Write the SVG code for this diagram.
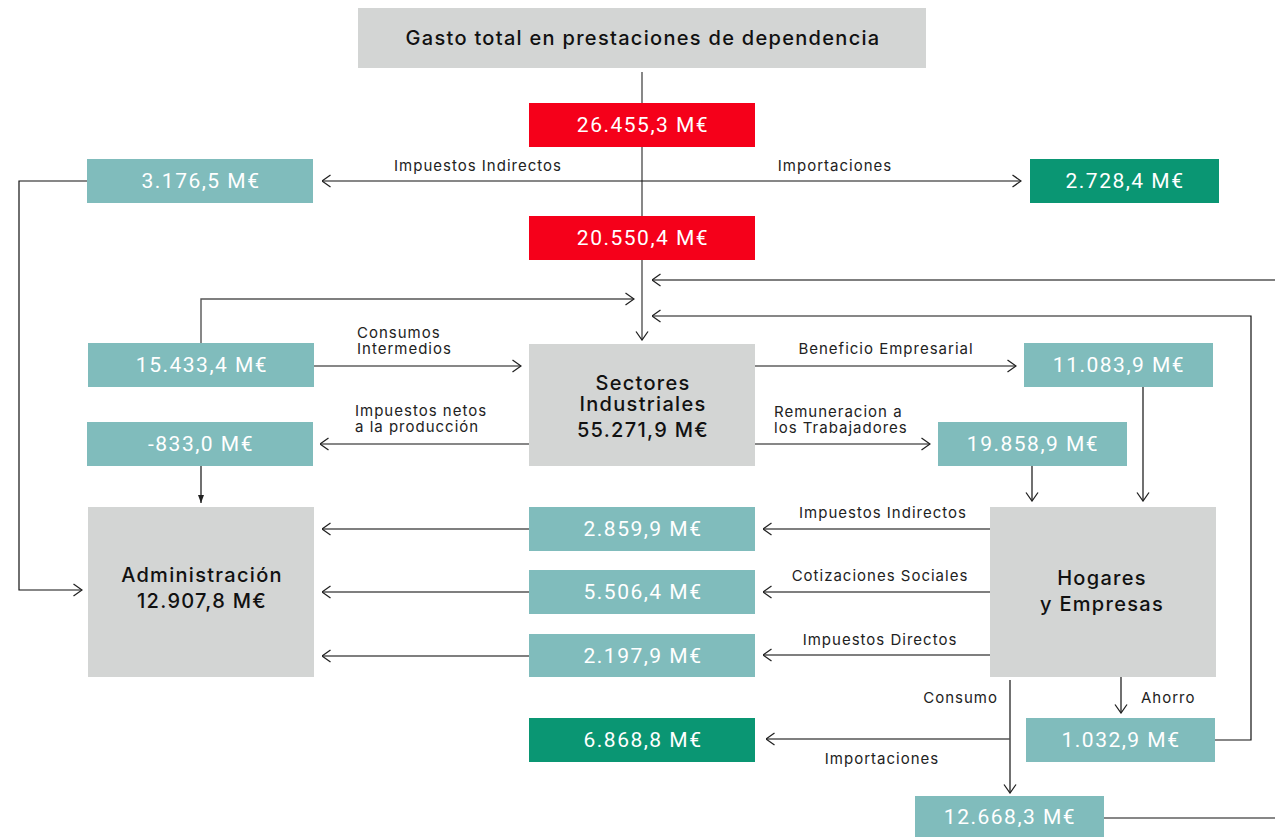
<svg xmlns="http://www.w3.org/2000/svg" width="1275" height="837" viewBox="0 0 1275 837">
<defs>
<style>
.gray{fill:#d3d5d4}
.red{fill:#f5001a}
.teal{fill:#80bcbc}
.green{fill:#0a9673}
.val{font-family:Roboto,"Liberation Sans",sans-serif;font-size:21px;fill:#fff;text-anchor:middle;letter-spacing:1.5px}
.big{font-family:Inter,"Liberation Sans",sans-serif;font-size:20px;font-weight:500;fill:#111;text-anchor:middle;letter-spacing:1.3px}
.lbl{font-family:Inter,"Liberation Sans",sans-serif;font-size:15px;fill:#222;letter-spacing:1px}
.ln{fill:none;stroke:#555;stroke-width:1.4}
.lk{fill:none;stroke:#111;stroke-width:1.2}
</style>
<marker id="ch" viewBox="0 0 10 14" refX="9.5" refY="7" markerWidth="10" markerHeight="14" markerUnits="userSpaceOnUse" orient="auto">
<path d="M1,1 L9.5,7 L1,13" fill="none" stroke="#222" stroke-width="1.3"/>
</marker>
<marker id="tri" viewBox="0 0 8 8" refX="8" refY="4" markerWidth="8" markerHeight="8" markerUnits="userSpaceOnUse" orient="auto">
<path d="M0,1 L8,4 L0,7 Z" fill="#222"/>
</marker>
</defs>

<g id="connectors">
<path class="ln" d="M642,72 V340" marker-end="url(#ch)"/>
<path class="lk" d="M642,181 H322" marker-end="url(#ch)"/>
<path class="lk" d="M642,181 H1021" marker-end="url(#ch)"/>
<path class="lk" d="M87,181 H19 V590 H82" marker-end="url(#ch)"/>
<path class="ln" d="M201,343 V299 H634" marker-end="url(#ch)"/>
<path class="ln" d="M1275,280 H652" marker-end="url(#ch)"/>
<path class="lk" d="M1215,740 H1251 V316 H652" marker-end="url(#ch)"/>
<path class="lk" d="M314,366 H521" marker-end="url(#ch)"/>
<path class="lk" d="M755,366 H1016" marker-end="url(#ch)"/>
<path class="lk" d="M529,444 H320" marker-end="url(#ch)"/>
<path class="lk" d="M755,444 H930" marker-end="url(#ch)"/>
<path class="lk" d="M201,466 V503" marker-end="url(#tri)"/>
<path class="ln" d="M529,529 H322" marker-end="url(#ch)"/>
<path class="ln" d="M529,592 H322" marker-end="url(#ch)"/>
<path class="ln" d="M529,656 H322" marker-end="url(#ch)"/>
<path class="ln" d="M990,529 H763" marker-end="url(#ch)"/>
<path class="ln" d="M990,592 H763" marker-end="url(#ch)"/>
<path class="ln" d="M990,655 H763" marker-end="url(#ch)"/>
<path class="lk" d="M1032,466 V501" marker-end="url(#ch)"/>
<path class="lk" d="M1143,387 V501" marker-end="url(#ch)"/>
<path class="lk" d="M1010,680 V793" marker-end="url(#ch)"/>
<path class="ln" d="M1010,739 H766" marker-end="url(#ch)"/>
<path class="lk" d="M1121,677 V713" marker-end="url(#ch)"/>
<path class="lk" d="M1104,818 H1275"/>
<text class="lbl" x="478" y="171" text-anchor="middle">Impuestos Indirectos</text>
<text class="lbl" x="835" y="171" text-anchor="middle">Importaciones</text>
<text class="lbl" x="357" y="338">Consumos</text>
<text class="lbl" x="357" y="354">Intermedios</text>
<text class="lbl" x="886" y="354" text-anchor="middle">Beneficio Empresarial</text>
<text class="lbl" x="355" y="416">Impuestos netos</text>
<text class="lbl" x="355" y="432">a la producción</text>
<text class="lbl" x="774" y="417">Remuneracion a</text>
<text class="lbl" x="774" y="433">los Trabajadores</text>
<text class="lbl" x="883" y="518" text-anchor="middle">Impuestos Indirectos</text>
<text class="lbl" x="880" y="581" text-anchor="middle">Cotizaciones Sociales</text>
<text class="lbl" x="880" y="645" text-anchor="middle">Impuestos Directos</text>
<text class="lbl" x="998" y="703" text-anchor="end">Consumo</text>
<text class="lbl" x="1141" y="703">Ahorro</text>
<text class="lbl" x="882" y="764" text-anchor="middle">Importaciones</text>
</g>

<g id="title"><rect class="gray" x="358" y="8" width="568" height="60"/><text class="big" x="643" y="45">Gasto total en prestaciones de dependencia</text></g>
<g id="v26455"><rect class="red" x="529" y="103" width="226" height="44"/><text class="val" x="643" y="132">26.455,3 M€</text></g>
<g id="v20550"><rect class="red" x="529" y="216" width="226" height="44"/><text class="val" x="643" y="245">20.550,4 M€</text></g>
<g id="v3176"><rect class="teal" x="87" y="159" width="226" height="44"/><text class="val" x="201" y="188">3.176,5 M€</text></g>
<g id="v2728"><rect class="green" x="1030" y="159" width="189" height="44"/><text class="val" x="1125" y="188">2.728,4 M€</text></g>
<g id="v15433"><rect class="teal" x="88" y="343" width="226" height="44"/><text class="val" x="202" y="372">15.433,4 M€</text></g>
<g id="sectores"><rect class="gray" x="529" y="344" width="226" height="122"/><text class="big" x="643" y="390">Sectores</text><text class="big" x="643" y="411">Industriales</text><text class="big" x="643" y="437">55.271,9 M€</text></g>
<g id="v11083"><rect class="teal" x="1024" y="343" width="189" height="44"/><text class="val" x="1119" y="372">11.083,9 M€</text></g>
<g id="v833"><rect class="teal" x="87" y="422" width="226" height="44"/><text class="val" x="201" y="451">-833,0 M€</text></g>
<g id="v19858"><rect class="teal" x="938" y="422" width="189" height="44"/><text class="val" x="1033" y="451">19.858,9 M€</text></g>
<g id="administracion"><rect class="gray" x="88" y="507" width="226" height="170"/><text class="big" x="202" y="582">Administración</text><text class="big" x="202" y="608">12.907,8 M€</text></g>
<g id="v2859"><rect class="teal" x="529" y="507" width="226" height="44"/><text class="val" x="643" y="536">2.859,9 M€</text></g>
<g id="v5506"><rect class="teal" x="529" y="570" width="226" height="44"/><text class="val" x="643" y="599">5.506,4 M€</text></g>
<g id="v2197"><rect class="teal" x="529" y="634" width="226" height="43"/><text class="val" x="643" y="663">2.197,9 M€</text></g>
<g id="hogares"><rect class="gray" x="990" y="507" width="226" height="170"/><text class="big" x="1102" y="585">Hogares</text><text class="big" x="1102" y="611">y Empresas</text></g>
<g id="v6868"><rect class="green" x="529" y="718" width="226" height="44"/><text class="val" x="643" y="747">6.868,8 M€</text></g>
<g id="v1032"><rect class="teal" x="1026" y="718" width="189" height="44"/><text class="val" x="1121" y="747">1.032,9 M€</text></g>
<g id="v12668"><rect class="teal" x="915" y="796" width="189" height="41"/><text class="val" x="1010" y="824">12.668,3 M€</text></g>
</svg>
